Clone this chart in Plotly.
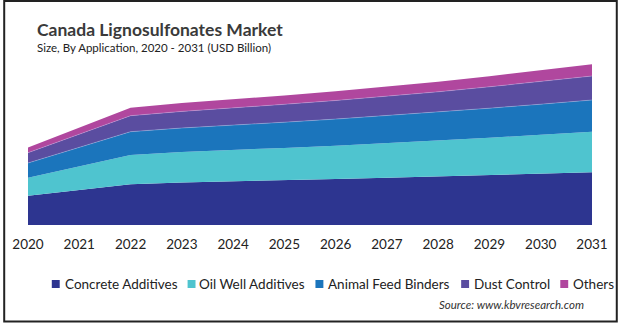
import plotly.graph_objects as go

years = [str(y) for y in range(2020, 2032)]
series_names = ["Concrete Additives", "Oil Well Additives", "Animal Feed Binders", "Dust Control", "Others"]
concrete = [0.293, 0.350, 0.407, 0.425, 0.435, 0.448, 0.460, 0.473, 0.485, 0.500, 0.513, 0.527]
oil_well = [0.180, 0.235, 0.293, 0.305, 0.313, 0.323, 0.333, 0.345, 0.358, 0.373, 0.389, 0.406]
animal_feed = [0.147, 0.190, 0.233, 0.240, 0.248, 0.257, 0.266, 0.275, 0.285, 0.295, 0.306, 0.317]
dust_control = [0.103, 0.132, 0.160, 0.166, 0.172, 0.179, 0.186, 0.195, 0.204, 0.214, 0.226, 0.240]
others = [0.053, 0.067, 0.080, 0.083, 0.086, 0.089, 0.093, 0.097, 0.101, 0.106, 0.111, 0.117]
colors = ["#2d3590", "#4fc4cf", "#1b75bc", "#5a4da0", "#b0479e"]
edge_lines = [None, None, "rgba(170,200,240,0.55)", "rgba(200,180,235,0.55)", None]

values = [concrete, oil_well, animal_feed, dust_control, others]

W, H = 620, 323
L, R, T, B = 25, 26, 55, 98
PW = W - L - R
PH = H - T - B

def px(x):
    return (x - L) / PW

def py(y):
    return (H - B - y) / PH

fig = go.Figure()
for name, vals, col, ln in zip(series_names, values, colors, edge_lines):
    fig.add_trace(go.Scatter(
        x=years, y=vals, name=name, mode="lines", stackgroup="one",
        fillcolor=col,
        line=dict(width=0.7 if ln else 0, color=ln if ln else col),
        showlegend=False,
    ))

font_family = "Lato"
annotations = [
    dict(text="<b>Canada Lignosulfonates Market</b>", x=px(32), y=py(29), xref="paper", yref="paper",
         xanchor="left", yanchor="middle", showarrow=False,
         font=dict(family=font_family, size=17.5, color="#3a3a3a")),
    dict(text="Size, By Application, 2020 - 2031 (USD Billion)", x=px(32), y=py(48), xref="paper", yref="paper",
         xanchor="left", yanchor="middle", showarrow=False,
         font=dict(family=font_family, size=11.5, color="#222222")),
    dict(text="<i>Source: www.kbvresearch.com</i>", x=px(588), y=py(304), xref="paper", yref="paper",
         xanchor="right", yanchor="middle", showarrow=False,
         font=dict(family=font_family, size=11.5, color="#333333")),
]

shapes = []
sq_x = [49, 186, 315, 462, 562]
txt_x = [60, 196, 326, 473, 573]
for name, col, sx, tx in zip(series_names, colors, sq_x, txt_x):
    shapes.append(dict(type="rect", xref="paper", yref="paper",
                       x0=px(sx), x1=px(sx + 8), y0=py(288), y1=py(280),
                       fillcolor=col, line=dict(width=0)))
    annotations.append(dict(text=name, x=px(tx), y=py(284), xref="paper", yref="paper",
                            xanchor="left", yanchor="middle", showarrow=False,
                            font=dict(family=font_family, size=13.5, color="#222222")))

# outer frame
shapes.append(dict(type="rect", xref="paper", yref="paper",
                   x0=px(1), x1=px(619), y0=py(321.5), y1=py(1),
                   line=dict(width=2, color="#222222"), fillcolor="rgba(0,0,0,0)"))

fig.update_layout(
    width=W, height=H,
    margin=dict(l=L, r=R, t=T, b=B),
    paper_bgcolor="white", plot_bgcolor="white",
    showlegend=False,
    annotations=annotations,
    shapes=shapes,
    xaxis=dict(type="category", range=[0, 11], showgrid=False, zeroline=False,
               showline=False, ticks="", ticklabelstandoff=9,
               tickfont=dict(family=font_family, size=13.5, color="#222222"),
               fixedrange=True),
    yaxis=dict(range=[0, 1.70], visible=False, fixedrange=True),
)

fig.write_html("out.html")
